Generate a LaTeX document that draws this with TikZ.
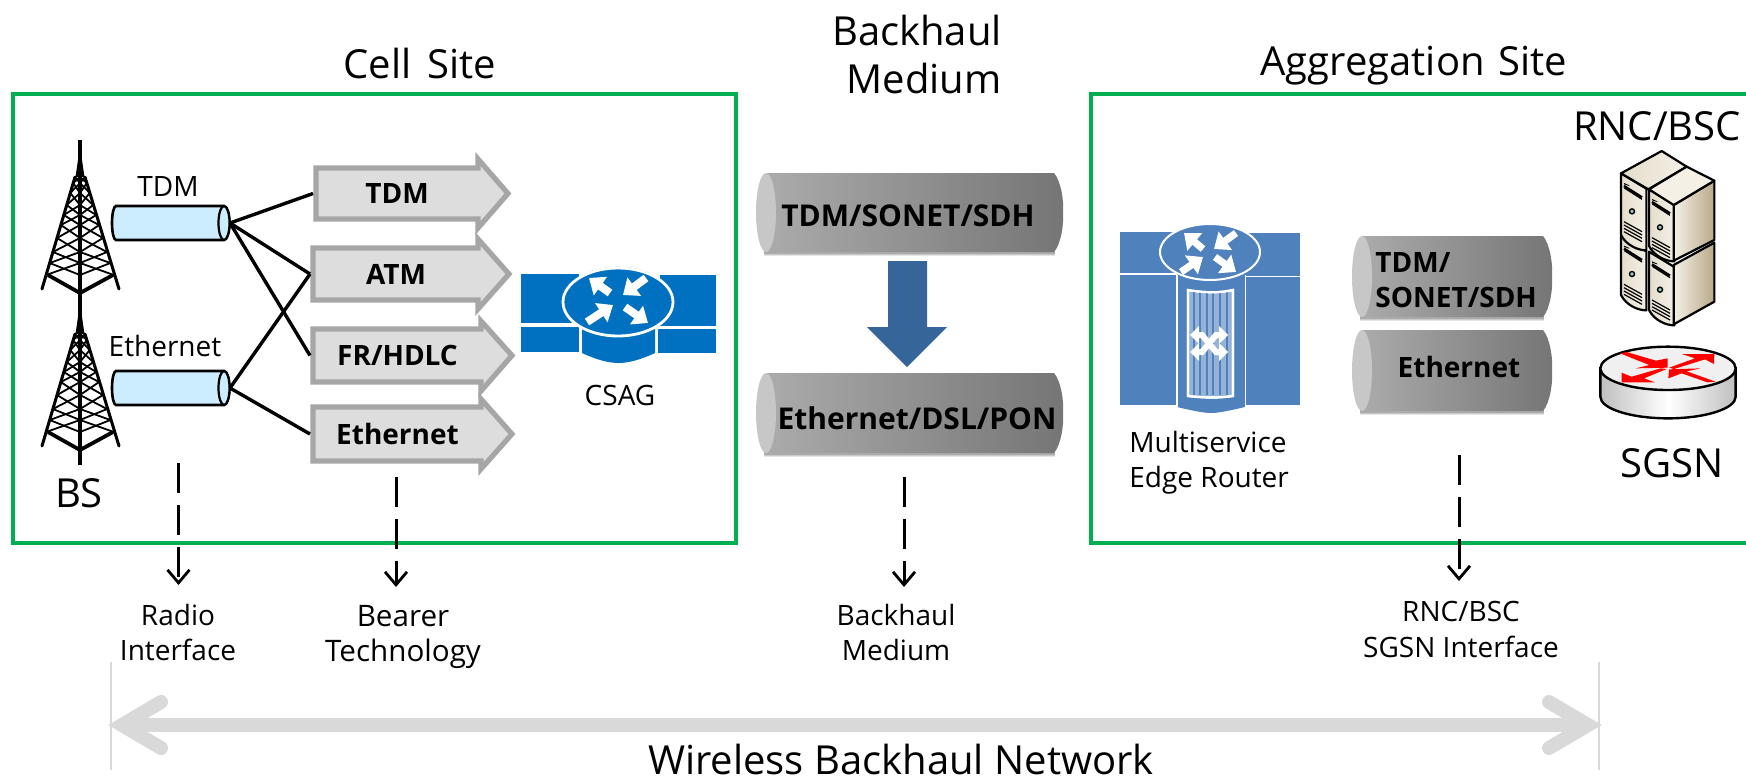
\documentclass[tikz,border=0pt]{standalone}
\usepackage{fontspec}
\setmainfont{Open Sans}
\usetikzlibrary{arrows.meta,calc}
\definecolor{sitegreen}{HTML}{00B050}
\definecolor{boxgray}{HTML}{DDDDDD}
\definecolor{boxedge}{HTML}{A6A6A6}
\definecolor{cablefill}{HTML}{CCECFF}
\definecolor{csagblue}{HTML}{0070C0}
\definecolor{mserblue}{HTML}{4F81BD}
\definecolor{panelblue}{HTML}{95B3D7}
\definecolor{downblue}{HTML}{366699}
\definecolor{span}{HTML}{D9D9D9}
\definecolor{srvA}{HTML}{F4F0E6}
\definecolor{srvB}{HTML}{B9A988}
\definecolor{srvC}{HTML}{E4DDCB}
\tikzset{
  sitebox/.style={draw=sitegreen,line width=2.2pt,line join=miter},
  lbl/.style={inner sep=0pt,font=\fontsize{14}{16}\selectfont},
  lblwide/.style={inner sep=0pt,font=\fontsize{14.8}{16}\selectfont},
  ttl/.style={inner sep=0pt,font=\fontsize{20}{24}\selectfont},
  boldlbl/.style={inner sep=0pt,font=\fontsize{14}{16}\selectfont\bfseries},
  link/.style={draw=black,line width=1.7pt},
  dashlink/.style={draw=black,line width=1.5pt,dash pattern=on 15pt off 6pt,-{Straight Barb[width=11pt,length=6.5pt,line width=1.4pt]}},
  towerline/.style={draw=black,line width=0.9pt},
  whitearrow/.style={draw=white,line width=#1,-{Triangle[width=11pt,length=7pt]}},
  whitearrow/.default=4pt,
}
% tower: #1 = y offset
\newcommand{\towerdraw}[1]{
  \begin{scope}[shift={(0,#1)}]
    \fill[black] (78,160) -- (82,160) -- (84.5,177) -- (75.5,177) -- cycle;
    \draw[line width=1.6pt] (80,177) -- (80,293);
    \draw[line width=1.5pt,line cap=round] (75,177) -- (42,289);
    \draw[line width=1.5pt,line cap=round] (85,177) -- (119,289);
    \draw[line width=1.9pt] (48,275) -- (80,293) -- (113,275);
    \foreach \ya/\yb in {177/183,183/193,193/205,205/215,215/225,225/238,238/252,252/263,263/275}{
      \pgfmathsetmacro{\la}{5+(\ya-177)*33/112}
      \pgfmathsetmacro{\lb}{5+(\yb-177)*33/112}
      \draw[towerline] (80-\la,\ya) -- (80,\yb) -- (80+\la,\ya);
      \draw[towerline] (80-\lb,\yb) -- (80,\ya) -- (80+\lb,\yb);
    }
  \end{scope}
}
% cable: #1 name, #2 top y
\newcommand{\cabledraw}[2]{
  \draw[fill=cablefill,line width=1.3pt] (116,#2) -- (224,#2)
     arc[start angle=-90,end angle=90,x radius=5.5,y radius=17] -- (116,#2+34)
     arc[start angle=90,end angle=270,x radius=4,y radius=17] -- cycle;
  \draw[fill=cablefill,line width=1.1pt] (224,#2+17) ellipse[x radius=5.5,y radius=17];
  \coordinate (#1) at (230,#2+17);
}
% arrow box: #1 name, #2 left, #3 shoulder, #4 tip, #5 top, #6 bottom, #7 head top, #8 head bottom, #9 text
\newcommand{\arrowbox}[9]{
  \draw[draw=boxedge,fill=boxgray,line width=2.6pt,line join=miter,miter limit=10]
    (#2,#5) -- (#3,#5) -- (#3,#7) -- (#4,{(#5+#6)/2}) -- (#3,#8) -- (#3,#6) -- (#2,#6) -- cycle;
  \coordinate (#1w) at (#2-3,{(#5+#6)/2});
  \node[boldlbl] (#1) at ({(#2+#4)/2-15},{(#5+#6)/2}) {#9};
}
% gray cylinder: #1 x0 (outer left), #2 x1 (outer right), #3 top, #4 bottom
\newcommand{\graycyl}[4]{
  \foreach \o/\a in {4/0.10,3/0.12,2/0.15}{
    \fill[black,opacity=\a] (#1+8,#4-1) rectangle (#2-8,#4+\o);
  }
  \shade[left color=black!33,right color=black!54]
    (#1+10,#3) -- (#2-9,#3) .. controls (#2-2,#3+8) and (#2+1,{(#3+#4)/2-12}) .. (#2,{(#3+#4)/2})
    .. controls (#2+1,{(#3+#4)/2+12}) and (#2-2,#4-8) .. (#2-9,#4) -- (#1+10,#4) -- cycle;
  \fill[black!22] (#1+10,{(#3+#4)/2}) ellipse[x radius=10,y radius={(#4-#3)/2}];
}
% server front: #1 x, #2 y, #3 height (zoom units)
\newcommand{\serverfront}[3]{
  \begin{scope}[shift={(#1,#2)}]
    \shade[left color=srvC,right color=srvA,draw=black,line width=1.1pt,line join=round]
      (0,0) -- (76,46) -- (76,#3+46) .. controls (50,#3+46) and (15,#3+30) .. (0,#3) -- cycle;
    \draw[line width=1.2pt] (9,38) -- (63,72);
    \fill[black] (9,29) -- (25,36) -- (25,38) -- (9,33) -- cycle;
    \draw[line width=0.6pt] (10,44) -- (63,78);
    \draw[line width=0.7pt,fill=teal!40] (33,114) circle[radius=7.5];
    \foreach \i in {0,1,2,3}{\draw[line width=0.6pt] (9,145+\i*10) -- (63,175+\i*10);}
  \end{scope}
}
\begin{document}
\begin{tikzpicture}[x=0.5pt,y=-0.5pt]
\useasboundingbox (0,0) rectangle (1746,778);

% ---- frames
\draw[sitebox] (13,94) rectangle (736,543);
\draw[sitebox] (1800,94) -- (1091,94) -- (1091,543) -- (1800,543);
\clip (0,0) rectangle (1746,778);

% ---- titles
\node[ttl] (cellT) at (420,63) {Cell\hspace{0.4em}Site};
\node[ttl] (backT) at (917,30) {Backhaul};
\node[ttl] (medT) at (924,78) {Medium};
\node[ttl] (aggT) at (1414,66) {Aggregation\hspace{0.35em}Site};

% ---- towers
\towerdraw{0}
\draw[line width=1.6pt] (80,140) -- (80,160);
\draw[line width=1.9pt] (80,293) -- (80,317);
\towerdraw{157}
\draw[line width=1.9pt] (80,450) -- (80,465);
\node[ttl] (bsL) at (79,493) {BS};

% ---- cables
\cabledraw{cableA}{206}
\cabledraw{cableB}{371}
\node[lbl] (tdmL) at (168,186) {TDM};
\node[lbl] (ethL) at (165,346) {Ethernet};

% ---- arrow boxes
\arrowbox{bTDM}{316}{478}{508}{168}{219}{159}{228}{TDM}
\arrowbox{bATM}{313}{478}{509}{248}{300}{239}{309}{ATM}
\arrowbox{bFR}{313}{481}{512}{329}{382}{321}{391}{FR/HDLC}
\arrowbox{bETH}{313}{481}{512}{407}{461}{399}{469}{Ethernet}

\draw[link] (cableA) -- (bTDMw);
\draw[link] (cableA) -- (bATMw);
\draw[link] (cableA) -- (bFRw);
\draw[link] (cableB) -- (bATMw);
\draw[link] (cableB) -- (bETHw);

% ---- CSAG router
\fill[csagblue] (521,274) rectangle (579,323);
\fill[csagblue] (521,327) rectangle (579,352);
\fill[csagblue] (660,275) rectangle (716,326);
\fill[csagblue] (658,329) rectangle (716,353);
\fill[csagblue] (582,320) -- (655,320) -- (655,353) .. controls (640,360) and (628,363) .. (618.5,363) .. controls (609,363) and (597,360) .. (582,353) -- cycle;
\draw[csagblue,line width=0.1pt,fill=csagblue] (618,302) ellipse[x radius=56,y radius=35];
\draw[white,line width=1.4pt] (618,302) ellipse[x radius=55,y radius=34];
\draw[whitearrow] (610,293) -- (589,278);
\draw[whitearrow] (646,278) -- (623,295);
\draw[whitearrow] (587,322) -- (613,305);
\draw[whitearrow] (625,307) -- (648,323);
\node[lbl] (csag) at (620,395) {CSAG};

% ---- central column
\graycyl{756}{1063}{173}{252}
\graycyl{756}{1063}{373}{453}
\node[boldlbl,font=\fontsize{15}{17}\selectfont\bfseries] (cA) at (908,216) {TDM/SONET/SDH};
\node[boldlbl,font=\fontsize{15}{17}\selectfont\bfseries] (cB) at (917,418) {Ethernet/DSL/PON};
\fill[downblue] (888,261) -- (927,261) -- (927,327) -- (947,327) -- (907,367) -- (867,327) -- (888,327) -- cycle;

% ---- multiservice router
\fill[mserblue] (1120,232) rectangle (1177,273);
\fill[mserblue] (1120,275) rectangle (1176,405);
\fill[mserblue] (1245,233) rectangle (1300,276);
\fill[mserblue] (1245,277) rectangle (1300,405);
\fill[mserblue] (1177,260) -- (1245,260) -- (1245,407) .. controls (1228,411) and (1218,413) .. (1211,413) .. controls (1204,413) and (1194,411) .. (1177,407) -- cycle;
\draw[white,line width=0.5pt] (1177,275) -- (1177,407);
\draw[white,line width=0.5pt] (1245,275) -- (1245,407);
\draw[white,line width=1.1pt,fill=panelblue] (1188,290) .. controls (1205,293) and (1220,293) .. (1233,290) -- (1233,396) .. controls (1220,398) and (1205,398) .. (1188,396) -- cycle;
\foreach \sx in {1194,1200,1207,1213,1220,1227}{\draw[mserblue,line width=0.7pt] (\sx,292) -- (\sx,395);}
\draw[white,line width=1.1pt] (1188,290) .. controls (1205,293) and (1220,293) .. (1233,290) -- (1233,396) .. controls (1220,398) and (1205,398) .. (1188,396) -- cycle;
\draw[white,line width=3pt] (1196,335) -- (1202,335) -- (1216,352) -- (1222,352);
\draw[white,line width=3pt] (1196,352) -- (1202,352) -- (1216,335) -- (1222,335);
\fill[white] (1190,335) -- (1199,326) -- (1199,344) -- cycle;
\fill[white] (1190,352) -- (1199,343) -- (1199,361) -- cycle;
\fill[white] (1228,335) -- (1219,326) -- (1219,344) -- cycle;
\fill[white] (1228,352) -- (1219,343) -- (1219,361) -- cycle;
\draw[white,line width=1pt,fill=mserblue] (1210,252) ellipse[x radius=50,y radius=28];
\draw[whitearrow=3.6pt] (1203,249) -- (1184,233);
\draw[whitearrow=3.6pt] (1236,233) -- (1214,249);
\draw[whitearrow=3.6pt] (1181,272) -- (1203,257);
\draw[whitearrow=3.6pt] (1215,257) -- (1236,272);
\node[lbl,anchor=west] (msA) at (1129,442) {Multiservice};
\node[lbl,anchor=west] (msB) at (1129,480) {Edge Router};

% ---- right cylinders
\graycyl{1352}{1552}{236}{317}
\graycyl{1352}{1552}{330}{411}
\node[boldlbl,anchor=west] (rA) at (1375,262) {TDM/};
\node[boldlbl,anchor=west] (rB) at (1375,297) {SONET/SDH};
\node[boldlbl] (rC) at (1459,367) {Ethernet};

% ---- servers (coordinates as thirds of a pixel)
\node[ttl] (rnc) at (1657,126) {RNC/BSC};
\begin{scope}[shift={(1570,150)},x=0.16667pt,y=-0.16667pt]
  \serverfront{153}{258}{177}
  \serverfront{153}{70}{185}
  \shade[left color=srvC,right color=srvA,draw=black,line width=1.1pt,line join=round] (153,70) -- (275,3) -- (350,50) -- (235,118) -- cycle;
  \serverfront{237}{305}{175}
  \shade[left color=srvA,right color=srvB,draw=black,line width=1.1pt,line join=round] (311,345) -- (433,278) -- (433,455) -- (311,523) -- cycle;
  \serverfront{237}{118}{170}
  \shade[left color=srvA,right color=srvB,draw=black,line width=1.1pt,line join=round] (311,165) -- (433,92) -- (433,270) -- (311,332) -- cycle;
  \fill[srvA,draw=black,line width=1.1pt,line join=round] (237,118) -- (350,50) -- (433,92) -- (311,165) -- cycle;

  % router
  \shade[left color=black!25,right color=black!25,middle color=white,draw=black,line width=1.2pt]
    (91,655) -- (91,740) arc[start angle=180,end angle=0,x radius=203,y radius=65] -- (497,655) -- cycle;
  \draw[fill=black!6,line width=1.2pt] (294,655) ellipse[x radius=203,y radius=65];
  \fill[red] (150,610) -- (170,606) -- (258,632) -- (293,625) -- (293,653) -- (197,655) -- (238,645) -- cycle;
  \fill[red] (297,653) -- (375,625) -- (335,612) -- (433,612) -- (432,642) -- (405,628) -- (312,657) -- cycle;
  \fill[red] (290,657) -- (222,685) -- (255,697) -- (155,697) -- (155,668) -- (185,680) -- (272,655) -- cycle;
  \fill[red] (437,695) -- (412,697) -- (335,670) -- (295,685) -- (297,658) -- (392,655) -- (350,664) -- cycle;
\end{scope}
\node[ttl] (sgsn) at (1672,463) {SGSN};

% ---- dashed arrows
\coordinate (dA) at (178.5,463); \coordinate (dAe) at (178.5,585);
\coordinate (dB) at (396,477);   \coordinate (dBe) at (396,587);
\coordinate (dC) at (904,477);   \coordinate (dCe) at (904,587);
\coordinate (dD) at (1459,455);  \coordinate (dDe) at (1459,581);
\draw[dashlink] (dA) -- (dAe);
\draw[dashlink] (dB) -- (dBe);
\draw[dashlink] (dC) -- (dCe);
\draw[dashlink] (dD) -- (dDe);

% ---- lower labels
\node[lbl] (l1a) at (178,615) {Radio};
\node[lbl] (l1b) at (178,650) {Interface};
\node[lblwide] (l2a) at (403,616) {Bearer};
\node[lblwide] (l2b) at (403,654) {Technology};
\node[lbl] (l3a) at (896,615) {Backhaul};
\node[lbl] (l3b) at (896,650) {Medium};
\node[lbl] (l4a) at (1461,611) {RNC/BSC};
\node[lbl] (l4b) at (1461,647) {SGSN Interface};

% ---- span arrow
\coordinate (spL) at (111,662); \coordinate (spLb) at (111,770);
\coordinate (spR) at (1599,662); \coordinate (spRb) at (1599,770);
\draw[span,line width=1pt] (spL) -- (spLb);
\draw[span,line width=1pt] (spR) -- (spRb);
\coordinate (tipL) at (122,725); \coordinate (tipR) at (1588,725);
\draw[span,line width=7pt] (tipL) -- (tipR);
\draw[span,line width=7pt,line cap=round,line join=miter] (161,702) -- (tipL) -- (161,748);
\draw[span,line width=7pt,line cap=round,line join=miter] (1549,702) -- (tipR) -- (1549,748);
\node[ttl] (wbn) at (901,759) {Wireless Backhaul Network};
\end{tikzpicture}
\end{document}
